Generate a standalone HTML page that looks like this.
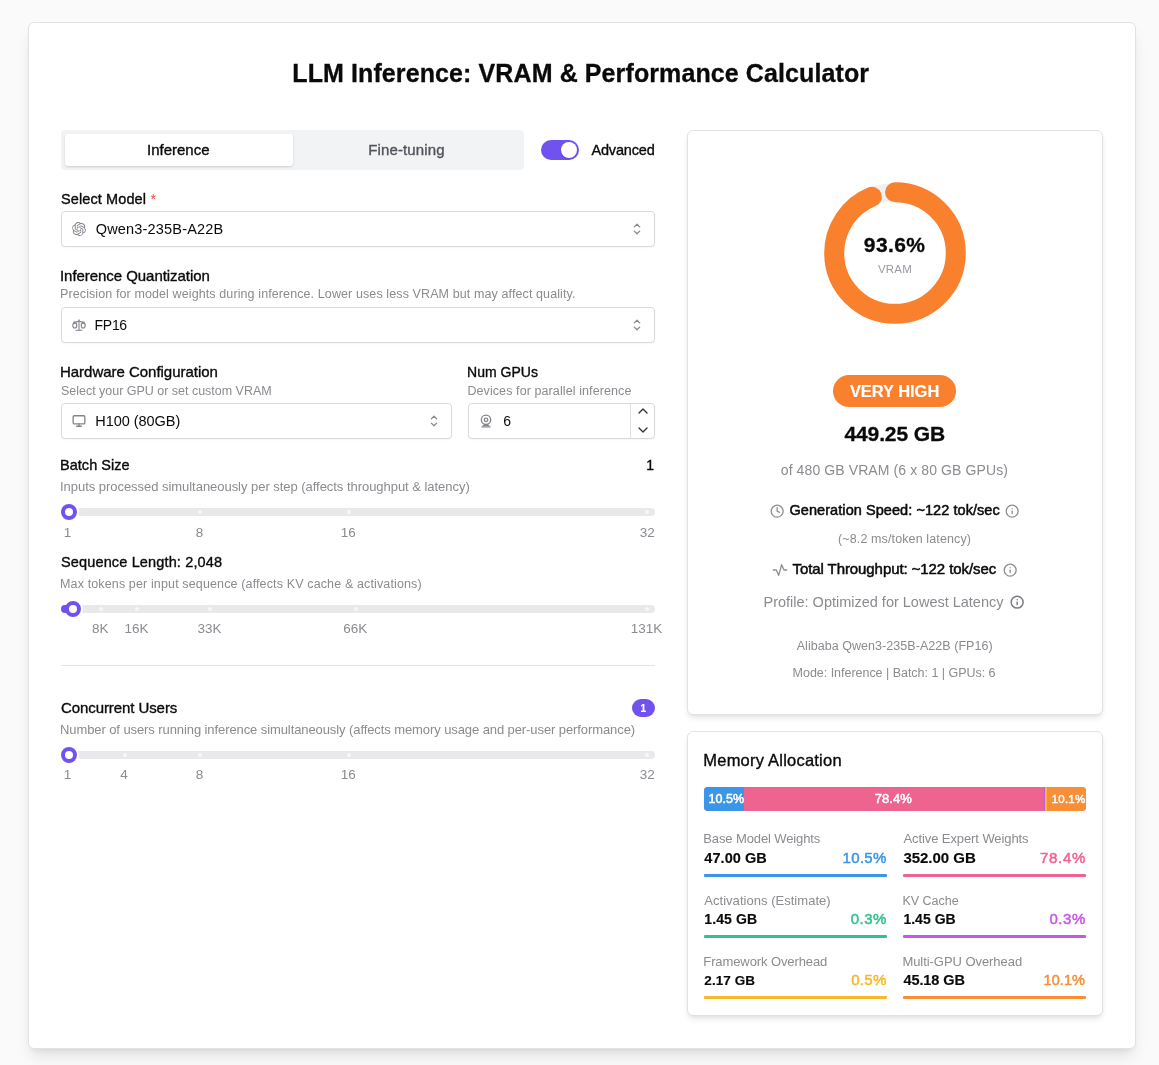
<!DOCTYPE html>
<html lang="en">
<head>
<meta charset="utf-8">
<title>LLM Inference: VRAM &amp; Performance Calculator</title>
<style>
*{box-sizing:border-box;margin:0;padding:0}
html,body{width:1159px;height:1065px;overflow:hidden}
body{background:#fafafa;font-family:"Liberation Sans",sans-serif;color:#0a0a0a}
#app{position:relative;width:1159px;height:1065px}
#app *{position:absolute}
.t{line-height:20px;white-space:nowrap;font-weight:400;margin:0}
.card{background:#fff;border:1px solid #e2e2e3;border-radius:6px;box-shadow:0 4px 6px -1px rgba(0,0,0,.09),0 2px 4px -2px rgba(0,0,0,.08)}
.outer{left:28px;top:22px;width:1108px;height:1027px;border-radius:6px;box-shadow:0 10px 15px -3px rgba(0,0,0,.10),0 4px 6px -4px rgba(0,0,0,.10)}
.tabs{left:61px;top:130px;width:463px;height:40px;background:#f2f3f5;border-radius:4px}
.tab-on{left:65px;top:134px;width:228px;height:32px;background:#fff;border-radius:3px;box-shadow:0 1px 3px rgba(0,0,0,.10),0 1px 2px rgba(0,0,0,.06)}
.switch{left:541px;top:140px;width:38px;height:20px;border-radius:10px;background:#7053ee}
.switch i{left:20px;top:2px;width:16px;height:16px;border-radius:50%;background:#fff;box-shadow:0 1px 2px rgba(0,0,0,.15)}
.field{background:#fff;border:1px solid #d9d9dc;border-radius:4px;height:36px;box-shadow:0 1px 2px rgba(0,0,0,.04)}
.ico{stroke:#83858a;fill:none;stroke-width:2.3;stroke-linecap:round;stroke-linejoin:round;overflow:visible}
.chev{stroke:#8a8a8e;fill:none;stroke-width:1.3;stroke-linecap:round;stroke-linejoin:round}
.track{left:61px;width:594px;height:8px;border-radius:4px;background:#e9e9ec}
.dot{width:4px;height:4px;border-radius:50%;background:#f7f7f9;margin-left:-2px}
.thumb{width:16px;height:16px;border-radius:50%;background:#fff;border:4px solid #7053ee}
.fill{background:#7053ee;height:8px;border-radius:4px}
.hr{left:61px;top:665px;width:594px;height:1px;background:#e4e4e7}
.pill{background:#7053ee;border-radius:9px}
.uline{height:3px;border-radius:1px}
.ring{width:19px;height:19px;border-radius:50%;background:#fff}

</style>
</head>
<body>
<main id="app">
<section class="card outer"></section>

<div class="tabs"></div>
<div class="tab-on"></div>
<div class="switch"><i></i></div>

<!-- Select model -->
<div class="field" style="left:61px;top:211px;width:594px"></div>
<svg class="ico" style="left:72px;top:222px;fill:#7d8187;stroke:none" width="14" height="14" viewBox="0 0 24 24"><path d="M22.2819 9.8211a5.9847 5.9847 0 0 0-.5157-4.9108 6.0462 6.0462 0 0 0-6.5098-2.9A6.0651 6.0651 0 0 0 4.9807 4.1818a5.9847 5.9847 0 0 0-3.9977 2.9 6.0462 6.0462 0 0 0 .7427 7.0966 5.98 5.98 0 0 0 .511 4.9107 6.051 6.051 0 0 0 6.5146 2.9001A5.9847 5.9847 0 0 0 13.2599 24a6.0557 6.0557 0 0 0 5.7718-4.2058 5.9894 5.9894 0 0 0 3.9977-2.9001 6.0557 6.0557 0 0 0-.7475-7.0729zm-9.022 12.6081a4.4755 4.4755 0 0 1-2.8764-1.0408l.1419-.0804 4.7783-2.7582a.7948.7948 0 0 0 .3927-.6813v-6.7369l2.02 1.1686a.071.071 0 0 1 .038.052v5.5826a4.504 4.504 0 0 1-4.4945 4.4944zm-9.6607-4.1254a4.4708 4.4708 0 0 1-.5346-3.0137l.142.0852 4.783 2.7582a.7712.7712 0 0 0 .7806 0l5.8428-3.3685v2.3324a.0804.0804 0 0 1-.0332.0615L9.74 19.9502a4.4992 4.4992 0 0 1-6.1408-1.6464zM2.3408 7.8956a4.485 4.485 0 0 1 2.3655-1.9728V11.6a.7664.7664 0 0 0 .3879.6765l5.8144 3.3543-2.0201 1.1685a.0757.0757 0 0 1-.071 0l-4.8303-2.7865A4.504 4.504 0 0 1 2.3408 7.872zm16.5963 3.8558L13.1038 8.364 15.1192 7.2a.0757.0757 0 0 1 .071 0l4.8303 2.7913a4.4944 4.4944 0 0 1-.6765 8.1042v-5.6772a.79.79 0 0 0-.407-.667zm2.0107-3.0231l-.142-.0852-4.7735-2.7818a.7759.7759 0 0 0-.7854 0L9.409 9.2297V6.8974a.0662.0662 0 0 1 .0284-.0615l4.8303-2.7866a4.4992 4.4992 0 0 1 6.6802 4.66zM8.3065 12.863l-2.02-1.1638a.0804.0804 0 0 1-.038-.0567V6.0742a4.4992 4.4992 0 0 1 7.3757-3.4537l-.142.0805L8.704 5.459a.7948.7948 0 0 0-.3927.6813zm1.0976-2.3654l2.602-1.4998 2.6069 1.4998v2.9994l-2.5974 1.4997-2.6067-1.4997Z"/></svg>
<svg class="chev" style="left:628.8px;top:221.3px" width="16" height="16" viewBox="-8 -8 16 16"><path d="M-2.7 -2.1 L0 -4.8 L2.7 -2.1"/><path d="M-2.7 2.1 L0 4.8 L2.7 2.1"/></svg>

<!-- Quantization -->
<div class="field" style="left:61px;top:307px;width:594px"></div>
<svg class="ico" style="left:72px;top:317.6px;stroke-width:1.900" width="14" height="14" viewBox="0 0 24 24"><ellipse cx="4.800" cy="12.800" rx="3.400" ry="4.400"/><ellipse cx="19.200" cy="12.800" rx="3.400" ry="4.400"/><path d="M7 21h10"/><path d="M12 3v18"/><path d="M3 7h2c2 0 5-1 7-2 2 1 5 2 7 2h2"/><path d="M3.500 7.500 5 9.200M20.500 7.500 19 9.200"/></svg>
<svg class="chev" style="left:628.8px;top:317.3px" width="16" height="16" viewBox="-8 -8 16 16"><path d="M-2.7 -2.1 L0 -4.8 L2.7 -2.1"/><path d="M-2.7 2.1 L0 4.8 L2.7 2.1"/></svg>

<!-- Hardware -->
<div class="field" style="left:61px;top:403px;width:391px"></div>
<svg class="ico" style="left:72px;top:414px" width="14" height="14" viewBox="0 0 24 24"><rect width="20" height="14" x="2" y="3" rx="2"/><line x1="8" x2="16" y1="21" y2="21"/><line x1="12" x2="12" y1="17" y2="21"/></svg>
<svg class="chev" style="left:425.8px;top:413.2px" width="16" height="16" viewBox="-8 -8 16 16"><path d="M-2.7 -2.1 L0 -4.8 L2.7 -2.1"/><path d="M-2.7 2.1 L0 4.8 L2.7 2.1"/></svg>

<!-- Num GPUs -->
<div class="field" style="left:468px;top:403px;width:187px"></div>
<div style="left:630px;top:404px;width:1px;height:34px;background:#e0e0e4"></div>
<svg class="ico" style="left:479px;top:414px" width="14" height="14" viewBox="0 0 24 24"><circle cx="12" cy="10" r="8"/><circle cx="12" cy="10" r="3"/><path d="M5 22h14"/><path d="M7.500 19.500h9"/></svg>
<svg class="chev" style="left:634.8px;top:403.2px;stroke:#2e2e2e;stroke-width:1.9" width="16" height="16" viewBox="0 0 24 24"><path d="m18 15-6-6-6 6"/></svg>
<svg class="chev" style="left:634.8px;top:421.5px;stroke:#2e2e2e;stroke-width:1.9" width="16" height="16" viewBox="0 0 24 24"><path d="m6 9 6 6 6-6"/></svg>

<!-- Batch slider -->
<div class="track" style="top:508px"></div>
<i class="dot" style="left:199.5px;top:510px"></i><i class="dot" style="left:348.5px;top:510px"></i><i class="dot" style="left:647px;top:510px"></i>
<i class="ring" style="left:59.5px;top:502.5px"></i>
<div class="thumb" style="left:61px;top:504px"></div>

<!-- Sequence slider -->
<div class="track" style="top:605px"></div>
<i class="dot" style="left:100.5px;top:607px"></i><i class="dot" style="left:137px;top:607px"></i><i class="dot" style="left:210px;top:607px"></i><i class="dot" style="left:355.5px;top:607px"></i><i class="dot" style="left:647px;top:607px"></i>
<i class="ring" style="left:63.5px;top:599.5px"></i>
<div class="fill" style="left:61px;top:605px;width:12px"></div>
<div class="thumb" style="left:65px;top:601px"></div>

<div class="hr"></div>

<!-- Concurrent users -->
<div class="pill" style="left:632px;top:699px;width:23px;height:18px"></div>
<div class="track" style="top:751px"></div>
<i class="dot" style="left:125px;top:753px"></i><i class="dot" style="left:199.5px;top:753px"></i><i class="dot" style="left:348.5px;top:753px"></i><i class="dot" style="left:647px;top:753px"></i>
<i class="ring" style="left:59.5px;top:745.5px"></i>
<div class="thumb" style="left:61px;top:747px"></div>

<!-- Result card -->
<section class="card" style="left:687px;top:130px;width:416px;height:585px"></section>
<svg style="left:815px;top:173px" width="160" height="160" viewBox="-80 -80 160 160">
  <circle r="60.8" fill="none" stroke="#eff0f2" stroke-width="18"/>
  <circle r="60.8" fill="none" stroke="#f9802d" stroke-width="20" stroke-linecap="round" stroke-dasharray="357.6 400" transform="rotate(-90)"/>
</svg>
<div style="left:833px;top:375px;width:123px;height:32px;border-radius:16px;background:#f9802d"></div>
<svg class="ico" style="left:769.85px;top:503.85px;stroke:#8e8e93;stroke-width:2.2" width="14.3" height="14.3" viewBox="0 0 24 24"><circle cx="12" cy="12" r="10"/><polyline points="12 6 12 12 16 14"/></svg>
<svg class="ico" style="left:1004.85px;top:503.55px;stroke:#8e8e93;stroke-width:2.2" width="14.3" height="14.3" viewBox="0 0 24 24"><circle cx="12" cy="12" r="10"/><path d="M12 16v-4"/><path d="M12 8h.01"/></svg>
<svg class="ico" style="left:771.9px;top:561.8px;stroke:#8e8e93;stroke-width:2" width="16" height="16" viewBox="0 0 24 24"><path d="M2 12h4.500l3.500 8 4.500-16 3.500 8h4"/></svg>
<svg class="ico" style="left:1002.75px;top:562.65px;stroke:#8e8e93;stroke-width:2.2" width="14.3" height="14.3" viewBox="0 0 24 24"><circle cx="12" cy="12" r="10"/><path d="M12 16v-4"/><path d="M12 8h.01"/></svg>
<svg class="ico" style="left:1009.85px;top:594.85px;stroke:#7b7b82;stroke-width:2.5" width="14.3" height="14.3" viewBox="0 0 24 24"><circle cx="12" cy="12" r="10"/><path d="M12 16v-4"/><path d="M12 8h.01"/></svg>

<!-- Memory card -->
<section class="card" style="left:687px;top:731px;width:416px;height:285px"></section>
<div style="left:704px;top:787px;width:382px;height:24px;border-radius:4px;overflow:hidden;background:#ee6490">
  <div style="left:0;top:0;width:40.2px;height:24px;background:#3b96e8"></div>
  <div style="left:338.9px;top:0;width:1.4px;height:24px;background:#2ec48d"></div>
  <div style="left:340.3px;top:0;width:0.8px;height:24px;background:#c857e2"></div>
  <div style="left:341.1px;top:0;width:2px;height:24px;background:#f6b92b"></div>
  <div style="left:343.1px;top:0;width:39px;height:24px;background:#f88e36"></div>
</div>
<div class="uline" style="left:704px;top:874px;width:183px;background:#3b96e8"></div>
<div class="uline" style="left:903px;top:874px;width:183px;background:#ee6490"></div>
<div class="uline" style="left:704px;top:935px;width:183px;background:#2ec48d"></div>
<div class="uline" style="left:903px;top:935px;width:183px;background:#c857e2"></div>
<div class="uline" style="left:704px;top:996px;width:183px;background:#f6b92b"></div>
<div class="uline" style="left:903px;top:996px;width:183px;background:#f88e36"></div>

<h1 class="t" style="top:63px;font-size:25px;color:#0a0a0a;font-weight:700;-webkit-text-stroke:0.3px currentColor;letter-spacing:0.102px;left:292.30px;">LLM Inference: VRAM &amp; Performance Calculator</h1>
<span class="t" style="top:140px;font-size:15px;color:#0a0a0a;-webkit-text-stroke:0.35px currentColor;letter-spacing:0.006px;left:146.97px;">Inference</span>
<span class="t" style="top:140px;font-size:15px;color:#52525b;-webkit-text-stroke:0.35px currentColor;letter-spacing:0.130px;left:368.25px;">Fine-tuning</span>
<label class="t" style="top:140px;font-size:14.5px;color:#0a0a0a;-webkit-text-stroke:0.35px currentColor;letter-spacing:-0.161px;left:591.40px;">Advanced</label>
<label class="t" style="top:189px;font-size:14.5px;color:#0a0a0a;-webkit-text-stroke:0.35px currentColor;letter-spacing:0.105px;left:61.00px;">Select Model</label>
<span class="t" style="top:189px;font-size:14px;color:#ef4444;left:150.50px;">*</span>
<span class="t" style="top:219px;font-size:14.5px;color:#0a0a0a;letter-spacing:0.178px;left:95.75px;">Qwen3-235B-A22B</span>
<label class="t" style="top:266px;font-size:15px;color:#0a0a0a;-webkit-text-stroke:0.35px currentColor;letter-spacing:-0.052px;left:60.00px;">Inference Quantization</label>
<p class="t" style="top:284px;font-size:12.5px;color:#8b8b90;letter-spacing:0.106px;left:60.00px;">Precision for model weights during inference. Lower uses less VRAM but may affect quality.</p>
<span class="t" style="top:315px;font-size:14px;color:#0a0a0a;left:94.60px;letter-spacing:-0.3px;">FP16</span>
<label class="t" style="top:362px;font-size:15px;color:#0a0a0a;-webkit-text-stroke:0.35px currentColor;letter-spacing:-0.027px;left:60.00px;">Hardware Configuration</label>
<p class="t" style="top:381px;font-size:12.5px;color:#8b8b90;letter-spacing:-0.016px;left:61.00px;">Select your GPU or set custom VRAM</p>
<span class="t" style="top:411px;font-size:14.5px;color:#0a0a0a;letter-spacing:-0.035px;left:95.25px;">H100 (80GB)</span>
<label class="t" style="top:362px;font-size:14px;color:#0a0a0a;-webkit-text-stroke:0.35px currentColor;letter-spacing:0.031px;left:467.00px;">Num GPUs</label>
<p class="t" style="top:381px;font-size:12.5px;color:#8b8b90;letter-spacing:0.095px;left:467.40px;">Devices for parallel inference</p>
<span class="t" style="top:411px;font-size:14px;color:#0a0a0a;left:503.30px;">6</span>
<label class="t" style="top:455px;font-size:14.5px;color:#0a0a0a;-webkit-text-stroke:0.35px currentColor;letter-spacing:0.028px;left:60.00px;">Batch Size</label>
<span class="t" style="top:455px;font-size:14px;color:#0a0a0a;-webkit-text-stroke:0.35px currentColor;left:646.30px;">1</span>
<p class="t" style="top:477px;font-size:13px;color:#8b8b90;letter-spacing:-0.038px;left:60.00px;">Inputs processed simultaneously per step (affects throughput &amp; latency)</p>
<span class="t" style="top:523px;font-size:13.5px;color:#8b8b90;left:63.80px;">1</span>
<span class="t" style="top:523px;font-size:13.5px;color:#8b8b90;left:195.80px;">8</span>
<span class="t" style="top:523px;font-size:13.5px;color:#8b8b90;left:340.65px;">16</span>
<span class="t" style="top:523px;font-size:13.5px;color:#8b8b90;left:639.85px;">32</span>
<label class="t" style="top:552px;font-size:14.5px;color:#0a0a0a;-webkit-text-stroke:0.35px currentColor;letter-spacing:0.145px;left:61.00px;">Sequence Length: 2,048</label>
<p class="t" style="top:574px;font-size:12.5px;color:#8b8b90;letter-spacing:0.135px;left:60.00px;">Max tokens per input sequence (affects KV cache &amp; activations)</p>
<span class="t" style="top:619px;font-size:13.5px;color:#8b8b90;left:92.05px;">8K</span>
<span class="t" style="top:619px;font-size:13.5px;color:#8b8b90;left:124.39px;">16K</span>
<span class="t" style="top:619px;font-size:13.5px;color:#8b8b90;left:197.59px;">33K</span>
<span class="t" style="top:619px;font-size:13.5px;color:#8b8b90;left:343.29px;">66K</span>
<span class="t" style="top:619px;font-size:13.5px;color:#8b8b90;left:630.84px;">131K</span>
<label class="t" style="top:698px;font-size:15px;color:#0a0a0a;-webkit-text-stroke:0.35px currentColor;letter-spacing:-0.083px;left:61.00px;">Concurrent Users</label>
<p class="t" style="top:720px;font-size:13px;color:#8b8b90;letter-spacing:-0.089px;left:60.00px;">Number of users running inference simultaneously (affects memory usage and per-user performance)</p>
<span class="t" style="top:699px;font-size:10px;color:#fff;font-weight:700;-webkit-text-stroke:0.15px currentColor;left:640.60px;">1</span>
<span class="t" style="top:765px;font-size:13.5px;color:#8b8b90;left:63.80px;">1</span>
<span class="t" style="top:765px;font-size:13.5px;color:#8b8b90;left:120.20px;">4</span>
<span class="t" style="top:765px;font-size:13.5px;color:#8b8b90;left:195.80px;">8</span>
<span class="t" style="top:765px;font-size:13.5px;color:#8b8b90;left:340.65px;">16</span>
<span class="t" style="top:765px;font-size:13.5px;color:#8b8b90;left:639.85px;">32</span>
<span class="t" style="top:235px;font-size:21px;color:#0a0a0a;font-weight:700;-webkit-text-stroke:0.3px currentColor;letter-spacing:0.407px;left:863.85px;">93.6%</span>
<span class="t" style="top:259px;font-size:11.5px;color:#9a9aa3;letter-spacing:0.185px;left:878.00px;">VRAM</span>
<span class="t" style="top:381px;font-size:16.5px;color:#fff;font-weight:700;-webkit-text-stroke:0.15px currentColor;letter-spacing:-0.055px;left:849.90px;">VERY HIGH</span>
<span class="t" style="top:424px;font-size:21px;color:#0a0a0a;font-weight:700;-webkit-text-stroke:0.3px currentColor;letter-spacing:-0.100px;left:844.40px;">449.25 GB</span>
<p class="t" style="top:460px;font-size:14px;color:#8b8b90;letter-spacing:0.103px;left:780.75px;">of 480 GB VRAM (6 x 80 GB GPUs)</p>
<span class="t" style="top:500px;font-size:14.5px;color:#0a0a0a;-webkit-text-stroke:0.5px currentColor;letter-spacing:0.064px;left:789.50px;">Generation Speed: ~122 tok/sec</span>
<span class="t" style="top:529px;font-size:12.5px;color:#8b8b90;letter-spacing:0.120px;left:838.02px;">(~8.2 ms/token latency)</span>
<span class="t" style="top:559px;font-size:15px;color:#0a0a0a;-webkit-text-stroke:0.5px currentColor;letter-spacing:-0.082px;left:792.50px;">Total Throughput: ~122 tok/sec</span>
<span class="t" style="top:592px;font-size:14.5px;color:#8b8b90;letter-spacing:-0.005px;left:763.50px;">Profile: Optimized for Lowest Latency</span>
<p class="t" style="top:636px;font-size:12.5px;color:#8b8b90;letter-spacing:0.047px;left:796.73px;">Alibaba Qwen3-235B-A22B (FP16)</p>
<p class="t" style="top:663px;font-size:12.5px;color:#8b8b90;letter-spacing:-0.025px;left:792.60px;">Mode: Inference | Batch: 1 | GPUs: 6</p>
<h3 class="t" style="top:750px;font-size:16.5px;color:#0a0a0a;-webkit-text-stroke:0.35px currentColor;letter-spacing:0.216px;left:703.30px;">Memory Allocation</h3>
<span class="t" style="top:789px;font-size:12.5px;color:#fff;-webkit-text-stroke:0.5px currentColor;letter-spacing:0.043px;left:708.50px;">10.5%</span>
<span class="t" style="top:789px;font-size:13px;color:#fff;-webkit-text-stroke:0.5px currentColor;letter-spacing:0.075px;left:874.70px;">78.4%</span>
<span class="t" style="top:789px;font-size:11.5px;color:#fff;-webkit-text-stroke:0.5px currentColor;letter-spacing:0.229px;left:1051.70px;">10.1%</span>
<span class="t" style="top:829px;font-size:13px;color:#8b8b90;letter-spacing:-0.117px;left:703.30px;">Base Model Weights</span>
<span class="t" style="top:848px;font-size:14.5px;color:#0a0a0a;font-weight:700;-webkit-text-stroke:0.15px currentColor;letter-spacing:0.058px;left:704.30px;">47.00 GB</span>
<span class="t" style="top:848px;font-size:15px;color:#3b96e8;-webkit-text-stroke:0.5px currentColor;letter-spacing:0.301px;left:842.60px;">10.5%</span>
<span class="t" style="top:829px;font-size:13px;color:#8b8b90;letter-spacing:-0.086px;left:903.40px;">Active Expert Weights</span>
<span class="t" style="top:848px;font-size:15px;color:#0a0a0a;font-weight:700;-webkit-text-stroke:0.15px currentColor;letter-spacing:-0.027px;left:903.40px;">352.00 GB</span>
<span class="t" style="top:848px;font-size:15px;color:#ee6490;-webkit-text-stroke:0.5px currentColor;letter-spacing:0.701px;left:1040.00px;">78.4%</span>
<span class="t" style="top:891px;font-size:13px;color:#8b8b90;letter-spacing:0.030px;left:704.30px;">Activations (Estimate)</span>
<span class="t" style="top:909px;font-size:14px;color:#0a0a0a;font-weight:700;-webkit-text-stroke:0.15px currentColor;letter-spacing:0.095px;left:704.30px;">1.45 GB</span>
<span class="t" style="top:909px;font-size:15px;color:#2ec48d;-webkit-text-stroke:0.5px currentColor;letter-spacing:0.449px;left:850.80px;">0.3%</span>
<span class="t" style="top:891px;font-size:12.5px;color:#8b8b90;letter-spacing:-0.004px;left:902.40px;">KV Cache</span>
<span class="t" style="top:909px;font-size:14px;color:#0a0a0a;font-weight:700;-webkit-text-stroke:0.15px currentColor;letter-spacing:0.029px;left:903.40px;">1.45 GB</span>
<span class="t" style="top:909px;font-size:15px;color:#c857e2;-webkit-text-stroke:0.5px currentColor;letter-spacing:0.583px;left:1049.40px;">0.3%</span>
<span class="t" style="top:952px;font-size:13px;color:#8b8b90;letter-spacing:-0.099px;left:703.30px;">Framework Overhead</span>
<span class="t" style="top:971px;font-size:13.5px;color:#0a0a0a;font-weight:700;-webkit-text-stroke:0.15px currentColor;letter-spacing:0.079px;left:704.30px;">2.17 GB</span>
<span class="t" style="top:970px;font-size:15px;color:#f6b92b;-webkit-text-stroke:0.5px currentColor;letter-spacing:0.316px;left:851.20px;">0.5%</span>
<span class="t" style="top:952px;font-size:13px;color:#8b8b90;letter-spacing:-0.054px;left:902.40px;">Multi-GPU Overhead</span>
<span class="t" style="top:970px;font-size:14.5px;color:#0a0a0a;font-weight:700;-webkit-text-stroke:0.15px currentColor;letter-spacing:-0.070px;left:903.40px;">45.18 GB</span>
<span class="t" style="top:970px;font-size:14.5px;color:#f88e36;-webkit-text-stroke:0.5px currentColor;letter-spacing:0.045px;left:1043.60px;">10.1%</span>
</main>
</body>
</html>
